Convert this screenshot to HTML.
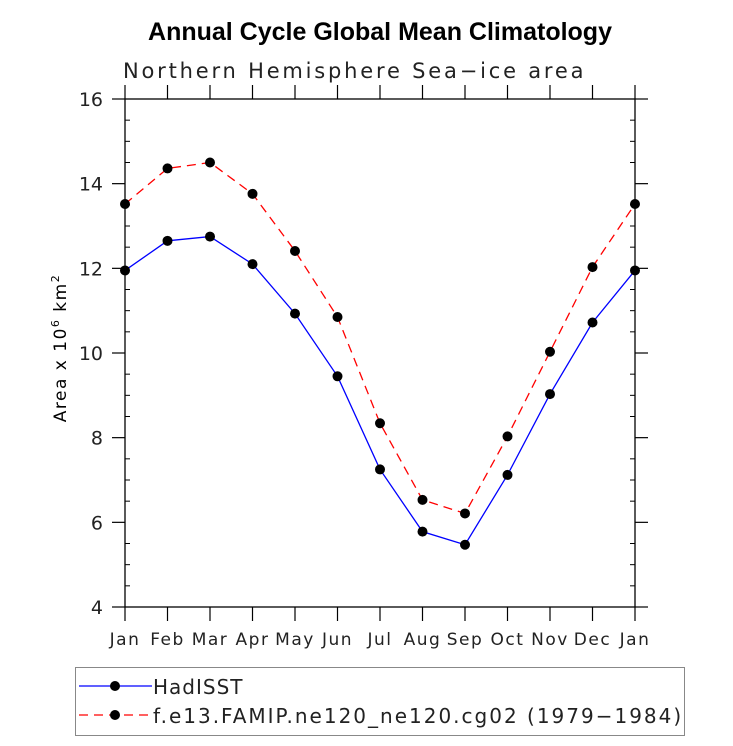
<!DOCTYPE html>
<html><head><meta charset="utf-8"><style>
body{margin:0;background:#fff;}
svg text{font-family:"DejaVu Sans","Liberation Sans",sans-serif;}
</style></head><body>
<svg id="chart" width="733" height="741" xmlns="http://www.w3.org/2000/svg">
<text x="380" y="40" text-anchor="middle" font-size="25" font-weight="bold" style="font-family:'Liberation Sans',sans-serif">Annual Cycle Global Mean Climatology</text>
<text x="123" y="78" font-size="21" fill="#222" letter-spacing="2.8">Northern Hemisphere Sea−ice area</text>
<g id="axes"></g>
<g id="series"></g>
<text transform="translate(66,348) rotate(-90)" text-anchor="middle" font-size="17" letter-spacing="1.5">Area x 10<tspan dy="-7" font-size="11">6</tspan><tspan dy="7"> km</tspan><tspan dy="-7" font-size="11">2</tspan></text>
<g>
<rect x="75.5" y="667.5" width="609" height="68" fill="none" stroke="#888" stroke-width="1"/>
<g>
<line x1="79" y1="686" x2="152" y2="686" stroke="#0000ff" stroke-width="1.3"/>
<circle cx="115" cy="686" r="5" fill="#000"/>
<text x="153" y="694" font-size="20" fill="#222" letter-spacing="1">HadISST</text>
</g>
<g>
<line x1="79" y1="715" x2="152" y2="715" stroke="#ff0000" stroke-width="1.3" stroke-dasharray="9,6"/>
<circle cx="115" cy="715" r="5" fill="#000"/>
<text x="153" y="723" font-size="20" fill="#222" letter-spacing="2">f.e13.FAMIP.ne120_ne120.cg02 (1979−1984)</text>
</g>
</g>
</svg>
<script>
const months=["Jan","Feb","Mar","Apr","May","Jun","Jul","Aug","Sep","Oct","Nov","Dec","Jan"];
const hadisst=[11.95,12.65,12.75,12.1,10.93,9.45,7.25,5.78,5.47,7.12,9.03,10.72,11.95];
const famip=[13.52,14.36,14.5,13.76,12.41,10.85,8.34,6.53,6.21,8.03,10.03,12.03,13.52];
const yTicks=[4,6,8,10,12,14,16];
const NS="http://www.w3.org/2000/svg";
const L=125,R=635,T=99,B=607,ymin=4,ymax=16;
const xs=i=>L+(R-L)*i/(months.length-1);
const ys=v=>B-(B-T)*(v-ymin)/(ymax-ymin);
function mk(tag,attrs,parent){const e=document.createElementNS(NS,tag);for(const k in attrs)e.setAttribute(k,attrs[k]);parent.appendChild(e);return e;}
const ax=document.getElementById('axes');
let f=mk('rect',{x:L,y:T,width:R-L,height:B-T,fill:'none',stroke:'#000','stroke-width':1.3},ax);


months.forEach((m,i)=>{
 const x=xs(i);
 mk('line',{x1:x,y1:B,x2:x,y2:B+14,stroke:'#000','stroke-width':1.2},ax);
 mk('line',{x1:x,y1:T,x2:x,y2:T-14,stroke:'#000','stroke-width':1.2},ax);
 const t=mk('text',{x:x,y:B+38,'text-anchor':'middle','font-size':17,'letter-spacing':1.5,fill:'#222'},ax);
 t.textContent=m;
 
 
});
yTicks.forEach((v,i)=>{
 const y=ys(v);
 mk('line',{x1:L-13,y1:y,x2:L,y2:y,stroke:'#000','stroke-width':1.2},ax);
 mk('line',{x1:R,y1:y,x2:R+13,y2:y,stroke:'#000','stroke-width':1.2},ax);
 const t=mk('text',{x:L-22,y:y+7,'text-anchor':'end','font-size':19,fill:'#222'},ax);
 t.textContent=v;
 
 
 if(i<yTicks.length-1){for(let k=1;k<4;k++){const yy=ys(v+k*0.5);
  mk('line',{x1:L,y1:yy,x2:L+5,y2:yy,stroke:'#000','stroke-width':1},ax);
  mk('line',{x1:R-5,y1:yy,x2:R,y2:yy,stroke:'#000','stroke-width':1},ax);}}
});
const sg=document.getElementById('series');
function series(vals,color,dash,name){
 const g=mk('g',{},sg);
 
 
 const p=mk('polyline',{points:vals.map((v,i)=>xs(i)+','+ys(v)).join(' '),fill:'none',stroke:color,'stroke-width':1.3,'stroke-dasharray':dash},g);
 
 
 vals.forEach((v,i)=>{const c=mk('circle',{cx:xs(i),cy:ys(v),r:5,fill:'#000'},g);
  
  });
}
series(famip,'#ff0000','9,6','famip-series');
series(hadisst,'#0000ff','none','hadisst-series');
</script>
</body></html>
